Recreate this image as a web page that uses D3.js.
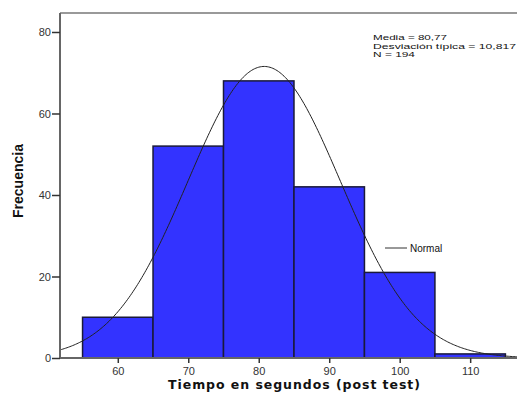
<!DOCTYPE html>
<html><head><meta charset="utf-8">
<script src="https://cdn.jsdelivr.net/npm/d3@7"></script>
<style>body{margin:0;background:#fff}svg{display:block}</style>
</head><body>
<svg id="c" width="517" height="394"></svg>
<script>
const binStarts = [55, 65, 75, 85, 95, 105];
const binWidth = 10;
const counts = [10, 52, 68, 42, 21, 1];
const xTicks = [60, 70, 80, 90, 100, 110];
const yTicks = [0, 20, 40, 60, 80];
const mean = 80.77, sd = 10.817, n = 194;
const statsLines = ["Media = 80,77", "Desviación típica = 10,817", "N = 194"];
const statsWidths = [74, 143, 42];

const svg = d3.select("#c");
const x = d3.scaleLinear().domain([51.8, 117.0]).range([60, 519.5]);
const y = d3.scaleLinear().domain([0, 84.66]).range([358, 13]);

// bars
svg.append("g").selectAll("rect").data(counts).join("rect")
  .attr("x", (d,i)=>x(binStarts[i]))
  .attr("width", (d,i)=>x(binStarts[i]+binWidth)-x(binStarts[i]))
  .attr("y", d=>y(d))
  .attr("height", d=>y(0)-y(d))
  .attr("fill", "#3333ff")
  .attr("stroke", "#1a1a3a")
  .attr("stroke-width", 1.5);

// normal curve
const pts = d3.range(51.8, 117.01, 0.2).map(v=>[v, n*binWidth/(sd*Math.sqrt(2*Math.PI))*Math.exp(-0.5*((v-mean)/sd)**2)]);
svg.append("path").datum(pts)
  .attr("d", d3.line().x(d=>x(d[0])).y(d=>y(d[1])).curve(d3.curveBasis))
  .attr("fill","none").attr("stroke","#222").attr("stroke-width",1);

// frame
svg.append("line").attr("x1",60).attr("x2",517).attr("y1",13).attr("y2",13).attr("stroke","#777").attr("stroke-width",1.5);

// axes
const ax = svg.append("g").attr("transform","translate(0,358)")
  .call(d3.axisBottom(x).tickValues(xTicks).tickSize(5).tickSizeOuter(0));
const ay = svg.append("g").attr("transform","translate(60,0)")
  .call(d3.axisLeft(y).tickValues(yTicks).tickSize(8).tickSizeOuter(0));
[ax, ay].forEach(a=>{
  a.select(".domain").attr("stroke","#666").attr("stroke-width",2);
  a.selectAll(".tick line").attr("stroke","#333").attr("stroke-width",1.5);
  a.selectAll(".tick text").attr("fill","#333").attr("font-family","Liberation Sans, Arial, sans-serif").attr("font-size",11);
});
ax.select(".domain").attr("d","M60,0H517");
ay.select(".domain").attr("d","M0,13V358");
ax.selectAll(".tick text").attr("dy","0.71em").attr("y",9);
ay.selectAll(".tick text").attr("x",-9);

// titles
svg.append("text").attr("x",294).attr("y",389).attr("text-anchor","middle")
  .attr("font-family","DejaVu Sans, Verdana, sans-serif").attr("font-weight","bold").attr("font-size",12.5)
  .attr("textLength",252).attr("fill","#111").text("Tiempo en segundos (post test)");
svg.append("text").attr("transform","translate(23,181) rotate(-90)").attr("text-anchor","middle")
  .attr("font-family","Liberation Sans Narrow, Arial Narrow, sans-serif").attr("font-weight","bold").attr("font-size",14)
  .attr("fill","#111").text("Frecuencia");

// stats
svg.append("g").selectAll("text").data(statsLines).join("text")
  .attr("x",373).attr("y",(d,i)=>40+i*8.5)
  .attr("font-family","Liberation Sans, Arial, sans-serif").attr("font-size",8).attr("fill","#111")
  .attr("textLength",(d,i)=>statsWidths[i]).attr("lengthAdjust","spacingAndGlyphs")
  .text(d=>d);

// legend
svg.append("line").attr("x1",385).attr("x2",407).attr("y1",248).attr("y2",248).attr("stroke","#333").attr("stroke-width",1);
svg.append("text").attr("x",410).attr("y",251.5).attr("font-family","Liberation Sans, Arial, sans-serif").attr("font-size",10).attr("fill","#111").text("Normal");
</script>
</body></html>
